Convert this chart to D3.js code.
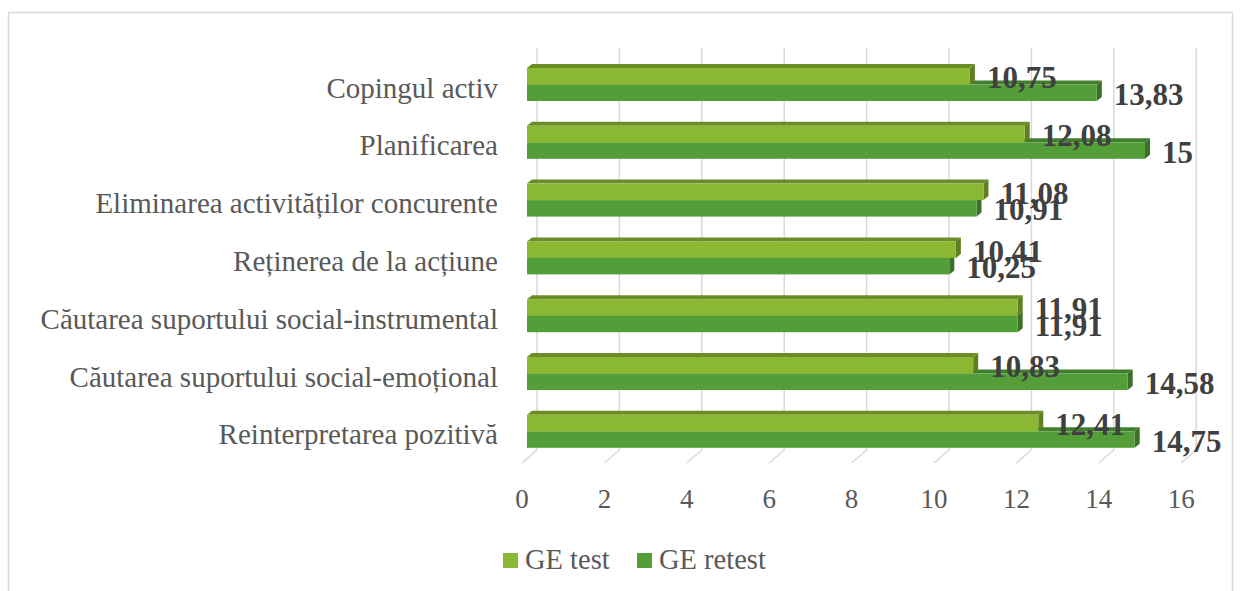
<!DOCTYPE html>
<html>
<head>
<meta charset="utf-8">
<script src="https://cdn.jsdelivr.net/npm/d3@7"></script>
<style>
  html, body { margin: 0; padding: 0; background: #fff; }
  svg { display: block; font-family: "Liberation Serif", "Times New Roman", serif; }
</style>
</head>
<body>
<div id="chart"></div>
<script>
(function () {
  'use strict';

  /* ── Data ── */
  var categories = [
    'Copingul activ',
    'Planificarea',
    'Eliminarea activităților concurente',
    'Reținerea de la acțiune',
    'Căutarea suportului social-instrumental',
    'Căutarea suportului social-emoțional',
    'Reinterpretarea pozitivă'
  ];
  var seriesNames = ['GE test', 'GE retest'];
  var testValues = [10.75, 12.08, 11.08, 10.41, 11.91, 10.83, 12.41];
  var retestValues = [13.83, 15, 10.91, 10.25, 11.91, 14.58, 14.75];
  var xTicks = [0, 2, 4, 6, 8, 10, 12, 14, 16];

  var W = 1242, H = 591;

  /* face colours per series: front, top, side */
  var palette = [
    { front: '#8ab833', top: '#6a8d27', side: '#5f7f21' },
    { front: '#549e39', top: '#427e2d', side: '#3b7028' }
  ];

  var svg = d3.select('#chart').append('svg')
    .attr('width', W).attr('height', H);

  /* chart frame */
  svg.append('rect')
    .attr('x', 8.5).attr('y', 12.5)
    .attr('width', 1224).attr('height', 620)
    .attr('fill', '#fff')
    .attr('stroke', '#d9d9d9')
    .attr('stroke-width', 1.5);

  /* ── Scales ── */
  var x = d3.scaleLinear().domain([0, 16]).range([0, 659.2]);
  var y = d3.scaleBand().domain(categories).range([55.6, 460.2]);
  var ys = d3.scaleBand().domain(seriesNames).range([-16.5, 16.5]);

  /* 3D planes: back wall, bar front, floor front */
  var backX = 537, barFrontX = 527, floorX = 522;
  var floorBackY = 450, floorFrontY = 463, gridTop = 48;
  var depth = [5, -4]; /* bar depth offset */

  /* ── Gridlines (back wall + floor) ── */
  var grid = svg.append('g')
    .attr('stroke', '#d9d9d9')
    .attr('stroke-width', 1.5)
    .attr('fill', 'none');
  xTicks.forEach(function (t) {
    grid.append('path')
      .attr('d', 'M' + (backX + x(t)) + ',' + gridTop +
        ' L' + (backX + x(t)) + ',' + floorBackY +
        ' L' + (floorX + x(t)) + ',' + floorFrontY);
  });

  /* ── Tick labels ── */
  svg.append('g').selectAll('text')
    .data(xTicks)
    .join('text')
    .attr('x', function (d) { return floorX + x(d); })
    .attr('y', 508)
    .attr('text-anchor', 'middle')
    .attr('font-size', 27)
    .attr('fill', '#595959')
    .text(function (d) { return d; });

  /* ── Category labels ── */
  svg.append('g').selectAll('text')
    .data(categories)
    .join('text')
    .attr('x', 498)
    .attr('y', function (d) { return y(d) + y.bandwidth() / 2 + 13; })
    .attr('text-anchor', 'end')
    .attr('font-size', 29)
    .attr('fill', '#595959')
    .text(function (d) { return d; });

  /* ── 3D bars ── */
  function drawBar(g, cat, sIdx, value) {
    var c = palette[sIdx];
    var cy = y(cat) + y.bandwidth() / 2;
    var y0 = cy + ys(seriesNames[sIdx]);
    var y1 = y0 + ys.bandwidth();
    var x0 = barFrontX, x1 = barFrontX + x(value);
    var dx = depth[0], dy = depth[1];
    var bg = g.append('g');
    bg.append('polygon')
      .attr('points', [[x0, y0], [x1, y0], [x1 + dx, y0 + dy], [x0 + dx, y0 + dy]].join(' '))
      .attr('fill', c.top);
    bg.append('polygon')
      .attr('points', [[x1, y0], [x1, y1], [x1 + dx, y1 + dy], [x1 + dx, y0 + dy]].join(' '))
      .attr('fill', c.side);
    bg.append('rect')
      .attr('x', x0).attr('y', y0)
      .attr('width', x1 - x0).attr('height', y1 - y0)
      .attr('fill', c.front);
  }

  var barG = svg.append('g');
  categories.forEach(function (cat, i) {
    drawBar(barG, cat, 1, retestValues[i]);
    drawBar(barG, cat, 0, testValues[i]);
  });

  /* ── Data labels ── */
  function fmt(v) { return String(v).replace('.', ','); }
  var labG = svg.append('g')
    .attr('font-size', 31)
    .attr('font-weight', 'bold')
    .attr('fill', '#404040');
  categories.forEach(function (cat, i) {
    [testValues[i], retestValues[i]].forEach(function (v, s) {
      var cy = y(cat) + y.bandwidth() / 2 + ys(seriesNames[s]) + ys.bandwidth() / 2;
      labG.append('text')
        .attr('x', barFrontX + x(v) + 17)
        .attr('y', cy + 12)
        .text(fmt(v));
    });
  });

  /* ── Legend ── */
  var legX = [503, 637];
  var leg = svg.append('g');
  seriesNames.forEach(function (name, i) {
    leg.append('rect')
      .attr('x', legX[i]).attr('y', 553)
      .attr('width', 15).attr('height', 15)
      .attr('fill', palette[i].front);
    leg.append('text')
      .attr('x', legX[i] + 22).attr('y', 569)
      .attr('font-size', 28.5)
      .attr('fill', '#595959')
      .text(name);
  });
})();
</script>
</body>
</html>
